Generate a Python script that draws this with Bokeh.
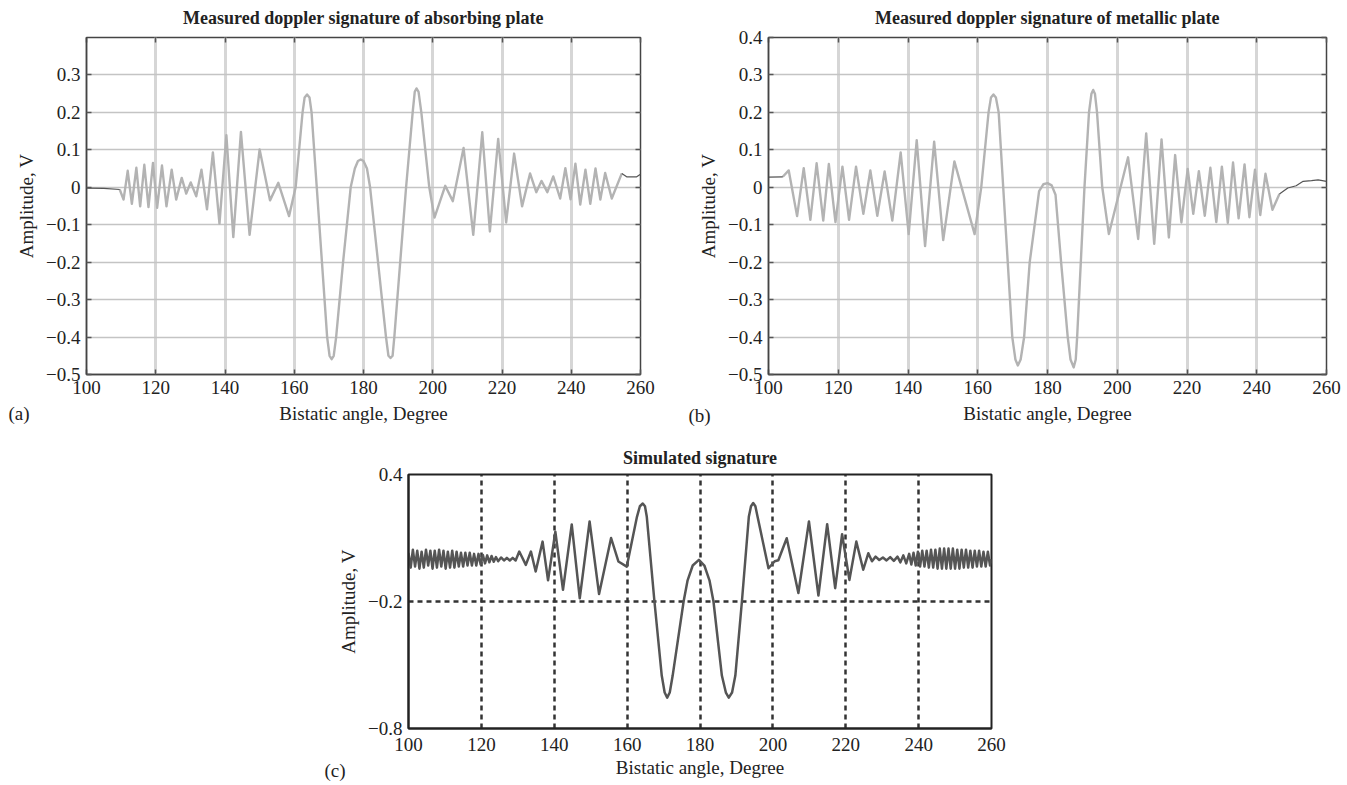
from bokeh.plotting import figure
from bokeh.models import (Range1d, FixedTicker, LinearAxis, Spacer, Title,
                          CustomLabelingPolicy)
from bokeh.layouts import column, row
from bokeh.embed import file_html
from bokeh.resources import INLINE

FONT = "Liberation Serif"

# ---------------- data ----------------
x_ticks = [100, 120, 140, 160, 180, 200, 220, 240, 260]
x_tick_labels = ["100", "120", "140", "160", "180", "200", "220", "240", "260"]

a_y_ticks = [-0.5, -0.4, -0.3, -0.2, -0.1, 0.0, 0.1, 0.2, 0.3]
a_y_labels = ["\u22120.5", "\u22120.4", "\u22120.3", "\u22120.2", "\u22120.1", "0", "0.1", "0.2", "0.3"]
b_y_ticks = [-0.5, -0.4, -0.3, -0.2, -0.1, 0.0, 0.1, 0.2, 0.3, 0.4]
b_y_labels = ["\u22120.5", "\u22120.4", "\u22120.3", "\u22120.2", "\u22120.1", "0", "0.1", "0.2", "0.3", "0.4"]
c_y_ticks = [-0.8, -0.2, 0.4]
c_y_labels = ["\u22120.8", "\u22120.2", "0.4"]

# (a) absorbing plate
a_angle = [100.0, 105.0, 109.6, 110.7, 111.9, 113.1, 114.4, 115.5, 116.7, 117.9,
           119.2, 120.4, 121.8, 123.1, 124.6, 125.9, 127.5, 128.8, 130.1, 131.7,
           133.2, 134.8, 136.5, 138.4, 140.4, 142.4, 144.6, 147.1, 150.0, 153.0,
           155.4, 158.5, 160.4, 162.4, 163.0, 163.7, 164.4, 165.0, 166.5, 168.0,
           169.5, 170.2, 170.8, 171.4, 172.1, 174.1, 176.3, 177.5, 178.4, 179.2,
           180.0, 181.0, 181.9, 184.2, 186.5, 187.2, 187.8, 188.4, 188.9, 190.6,
           192.3, 194.2, 194.8, 195.3, 195.9, 196.7, 199.0, 200.5, 203.6, 205.8,
           208.9, 211.7, 214.3, 216.5, 218.9, 221.2, 223.5, 225.8, 228.1, 229.9,
           231.4, 233.1, 234.8, 236.8, 238.3, 239.8, 241.2, 242.6, 244.1, 245.5,
           247.0, 248.4, 249.8, 251.7, 254.6, 256.0, 258.9, 260.0]
a_amp = [-0.002, -0.003, -0.006, -0.033, 0.044, -0.044, 0.052, -0.051, 0.060, -0.053,
         0.065, -0.055, 0.058, -0.051, 0.047, -0.033, 0.025, -0.017, 0.013, -0.024,
         0.047, -0.059, 0.093, -0.097, 0.139, -0.133, 0.148, -0.127, 0.101, -0.035,
         0.012, -0.077, 0.0, 0.2, 0.24, 0.248, 0.24, 0.2, 0.0, -0.2,
         -0.4, -0.45, -0.459, -0.45, -0.4, -0.2, 0.0, 0.05, 0.07, 0.074,
         0.07, 0.05, 0.0, -0.2, -0.4, -0.45, -0.456, -0.45, -0.4, -0.2,
         0.0, 0.2, 0.255, 0.264, 0.255, 0.2, 0.0, -0.081, 0.004, -0.037,
         0.105, -0.127, 0.147, -0.118, 0.129, -0.094, 0.090, -0.051, 0.037, -0.013,
         0.017, -0.013, 0.029, -0.030, 0.051, -0.032, 0.063, -0.046, 0.047, -0.044,
         0.050, -0.033, 0.038, -0.030, 0.037, 0.028, 0.028, 0.035]

# (b) metallic plate
b_angle = [100.0, 104.1, 105.8, 108.2, 110.1, 112.0, 113.8, 115.7, 117.3, 119.2,
           121.2, 123.1, 125.1, 127.2, 129.2, 131.2, 133.3, 135.5, 137.9, 140.2,
           142.5, 144.9, 147.5, 150.1, 153.3, 159.1, 161.0, 163.1, 163.8, 164.5,
           165.2, 166.0, 167.3, 169.9, 170.8, 171.5, 172.3, 173.3, 174.9, 177.6,
           178.8, 180.0, 181.2, 182.3, 183.9, 185.8, 186.6, 187.5, 188.1, 188.5,
           190.6, 191.9, 192.6, 193.1, 193.6, 194.2, 195.7, 197.6, 203.1, 206.0,
           208.3, 210.6, 212.7, 214.8, 216.6, 218.4, 220.2, 221.8, 223.4, 225.1,
           226.7, 228.4, 230.0, 231.7, 233.2, 234.8, 236.5, 237.9, 239.5, 241.0,
           242.5, 244.5, 246.5, 248.9, 251.3, 253.3, 255.7, 257.6, 260.0]
b_amp = [0.027, 0.028, 0.045, -0.077, 0.051, -0.087, 0.064, -0.089, 0.062, -0.093,
         0.055, -0.087, 0.055, -0.071, 0.045, -0.076, 0.042, -0.089, 0.093, -0.125,
         0.126, -0.157, 0.122, -0.141, 0.069, -0.125, 0.0, 0.2, 0.24, 0.248,
         0.24, 0.2, 0.0, -0.4, -0.46, -0.476, -0.46, -0.4, -0.2, -0.01,
         0.008, 0.011, 0.005, -0.02, -0.2, -0.4, -0.46, -0.481, -0.46, -0.4,
         0.0, 0.2, 0.25, 0.260, 0.25, 0.2, 0.0, -0.125, 0.080, -0.138,
         0.144, -0.151, 0.128, -0.134, 0.086, -0.094, 0.049, -0.071, 0.043, -0.076,
         0.052, -0.093, 0.055, -0.095, 0.066, -0.083, 0.061, -0.080, 0.047, -0.074,
         0.036, -0.060, -0.018, -0.002, 0.004, 0.016, 0.018, 0.020, 0.016]

# (c) simulated signature
c_angle = [100.0, 100.6, 101.2, 101.8, 102.4, 103.0, 103.6, 104.2, 104.8, 105.4,
           106.0, 106.6, 107.2, 107.8, 108.4, 109.0, 109.6, 110.2, 110.8, 111.4,
           112.0, 112.6, 113.2, 113.8, 114.4, 115.0, 115.6, 116.2, 116.8, 117.4,
           118.0, 118.6, 119.2, 119.8, 120.4, 121.0, 121.6, 122.2, 122.8, 123.4,
           124.0, 124.6, 125.4, 126.2, 127.0, 127.8, 128.6, 129.4, 130.4, 132.2,
           133.6, 134.9, 136.8, 138.3, 140.3, 142.4, 144.8, 147.0, 149.7, 152.3,
           155.6, 157.6, 159.9, 162.7, 163.5, 164.3, 164.9, 165.4, 167.5, 169.5,
           170.3, 171.0, 171.7, 172.5, 175.5, 176.6, 178.0, 179.7, 181.2, 182.6,
           183.7, 186.0, 187.1, 187.9, 188.8, 189.7, 191.5, 193.4, 194.0, 194.6,
           195.2, 195.8, 198.8, 200.5, 201.5, 203.8, 207.0, 209.9, 212.5, 214.9,
           217.1, 219.0, 221.0, 222.9, 224.8, 226.2, 227.2, 228.2, 229.2, 230.2,
           231.2, 232.2, 233.2, 234.2, 235.0, 235.8, 236.6, 237.4, 238.0, 238.6,
           239.2, 239.8, 240.4, 241.0, 241.6, 242.2, 242.8, 243.4, 244.0, 244.6,
           245.2, 245.8, 246.4, 247.0, 247.6, 248.2, 248.8, 249.4, 250.0, 250.6,
           251.2, 251.8, 252.4, 253.0, 253.6, 254.2, 254.8, 255.4, 256.0, 256.6,
           257.2, 257.8, 258.4, 259.0, 259.6, 260.0]
c_amp = [0.030, -0.040, 0.045, -0.035, 0.040, -0.045, 0.035, -0.040, 0.045, -0.030,
         0.040, -0.045, 0.040, -0.040, 0.045, -0.035, 0.040, -0.045, 0.035, -0.040,
         0.040, -0.040, 0.035, -0.035, 0.030, -0.035, 0.030, -0.030, 0.030, -0.030,
         0.025, -0.030, 0.025, -0.025, 0.020, -0.020, 0.018, -0.015, 0.015, -0.012,
         0.010, -0.010, 0.008, -0.006, 0.006, -0.006, 0.006, -0.006, 0.036, -0.027,
         0.036, -0.058, 0.083, -0.100, 0.130, -0.145, 0.164, -0.185, 0.178, -0.165,
         0.100, -0.011, -0.035, 0.2, 0.25, 0.263, 0.25, 0.2, -0.2, -0.55,
         -0.63, -0.654, -0.63, -0.55, -0.2, -0.1, -0.03, -0.003, -0.03, -0.1,
         -0.2, -0.55, -0.63, -0.654, -0.63, -0.55, -0.2, 0.2, 0.25, 0.265,
         0.25, 0.2, -0.043, -0.010, -0.005, 0.099, -0.160, 0.178, -0.172, 0.165,
         -0.137, 0.118, -0.098, 0.083, -0.050, 0.028, -0.010, 0.012, -0.004, 0.008,
         -0.006, 0.010, -0.008, 0.012, -0.015, 0.018, -0.020, 0.025, -0.025, 0.030,
         -0.030, 0.035, -0.035, 0.040, -0.035, 0.040, -0.040, 0.045, -0.040, 0.045,
         -0.045, 0.050, -0.045, 0.050, -0.045, 0.050, -0.045, 0.050, -0.045, 0.045,
         -0.045, 0.045, -0.040, 0.045, -0.040, 0.040, -0.040, 0.040, -0.035, 0.040,
         -0.035, 0.035, -0.035, 0.035, -0.030, 0.000]

assert len(a_angle) == len(a_amp)
assert len(b_angle) == len(b_amp)
assert len(c_angle) == len(c_amp)

TITLE_A = "Measured doppler signature of absorbing plate"
TITLE_B = "Measured doppler signature of metallic plate"
TITLE_C = "Simulated signature"
XLABEL = "Bistatic angle, Degree"
YLABEL = "Amplitude, V"
TAGS = ["(a)", "(b)", "(c)"]


def style_axes(p, y_ticks, y_labels, dark=False):
    p.xaxis.ticker = FixedTicker(ticks=x_ticks)
    p.xaxis.major_label_overrides = dict(zip(x_ticks, x_tick_labels))
    p.yaxis.ticker = FixedTicker(ticks=y_ticks)
    p.yaxis.major_label_overrides = dict(zip(y_ticks, y_labels))
    p.xaxis.axis_label = XLABEL
    p.yaxis.axis_label = YLABEL
    for ax in (p.xaxis[0], p.yaxis[0]):
        ax.axis_label_text_font = FONT
        ax.axis_label_text_font_size = "19px"
        ax.axis_label_text_font_style = "normal"
        ax.axis_label_text_color = "#222222"
        ax.major_label_text_font = FONT
        ax.major_label_text_font_size = "19px"
        ax.major_label_text_color = "#222222"
        ax.minor_tick_line_color = None
        ax.major_tick_out = 0
        ax.major_tick_in = 0 if dark else 5
        ax.major_tick_line_color = "#555555"
        ax.major_tick_line_width = 1.5
        ax.axis_line_color = "#222222" if dark else "#444444"
        ax.axis_line_width = 2 if dark else 1.5
        ax.major_label_standoff = 6
        ax.axis_label_standoff = 6
    p.title.text_font = FONT
    p.title.text_font_size = "18px"
    p.title.text_font_style = "bold"
    p.title.text_color = "#222222"
    p.title.align = "center"
    p.title.standoff = 11
    p.outline_line_color = "#222222" if dark else "#444444"
    p.outline_line_width = 2 if dark else 1.5
    p.background_fill_color = "white"
    p.border_fill_color = "white"


def no_labels():
    return CustomLabelingPolicy(code="for (const i of indices) { indices.unset(i) }\nreturn indices")


def add_mirror(p, y_ticks):
    common = dict(major_label_text_font_size="1px", major_label_standoff=0,
                  major_tick_in=5, major_tick_out=0, minor_tick_line_color=None,
                  axis_line_color=None, major_tick_line_color="#555555",
                  major_tick_line_width=1.5)
    top = LinearAxis(ticker=FixedTicker(ticks=x_ticks), major_label_policy=no_labels(), **common)
    right = LinearAxis(ticker=FixedTicker(ticks=y_ticks), major_label_policy=no_labels(), **common)
    p.add_layout(top, "above")
    p.add_layout(right, "right")


def add_tag(p, text, offset, standoff):
    p.add_layout(Title(text=text, align="left", vertical_align="top", offset=offset,
                       standoff=standoff, text_font=FONT, text_font_size="19px",
                       text_font_style="normal", text_color="#222222"), "below")


def measured(title, y_ticks, y_labels, xs, ys, lead_end, tail_start, mbl, fw, mbr):
    p = figure(title=title, frame_width=fw, frame_height=337,
               x_range=Range1d(100, 260), y_range=Range1d(-0.5, 0.4),
               min_border_left=mbl, min_border_right=mbr, min_border_top=36,
               min_border_bottom=62, output_backend="svg", toolbar_location=None)
    style_axes(p, y_ticks, y_labels)
    add_mirror(p, y_ticks)
    p.xgrid.grid_line_color = "#d6d6d6"
    p.xgrid.grid_line_width = 3
    p.ygrid.grid_line_color = "#c4c4c4"
    p.ygrid.grid_line_width = 1.3
    p.line(xs[lead_end:tail_start + 1], ys[lead_end:tail_start + 1],
           line_color="#b3b3b3", line_width=2.4, line_join="round")
    p.line(xs[:lead_end + 1], ys[:lead_end + 1], line_color="#555555", line_width=1.2)
    p.line(xs[tail_start:], ys[tail_start:], line_color="#555555", line_width=1.2)
    return p


pa = measured(TITLE_A, a_y_ticks, a_y_labels, a_angle, a_amp, 2, len(a_angle) - 4, 86, 554, 22)
pb = measured(TITLE_B, b_y_ticks, b_y_labels, b_angle, b_amp, 1, len(b_angle) - 7, 106, 558, 18)
add_tag(pa, TAGS[0], -78, -48)
add_tag(pb, TAGS[1], -80, -44)

pc = figure(title=TITLE_C, frame_width=583, frame_height=254,
            x_range=Range1d(100, 260), y_range=Range1d(-0.8, 0.4),
            min_border_left=100, min_border_right=20, min_border_top=38,
            min_border_bottom=56, output_backend="svg", toolbar_location=None)
style_axes(pc, c_y_ticks, c_y_labels, dark=True)
pc.title.standoff = 13
pc.xaxis.major_label_standoff = 9
pc.xaxis.axis_label_standoff = 3
pc.xgrid.grid_line_color = "#333333"
pc.xgrid.grid_line_width = 2.5
pc.xgrid.grid_line_dash = "5 4"
pc.ygrid.grid_line_color = "#333333"
pc.ygrid.grid_line_width = 2.5
pc.ygrid.grid_line_dash = "5 4"
pc.line(c_angle, c_amp, line_color="#555555", line_width=2.5, line_join="round")
add_tag(pc, TAGS[2], -84, -42)

layout = column(row(pa, pb), row(Spacer(width=308, height=10), pc))

open("out.html", "w").write(file_html(layout, INLINE))
